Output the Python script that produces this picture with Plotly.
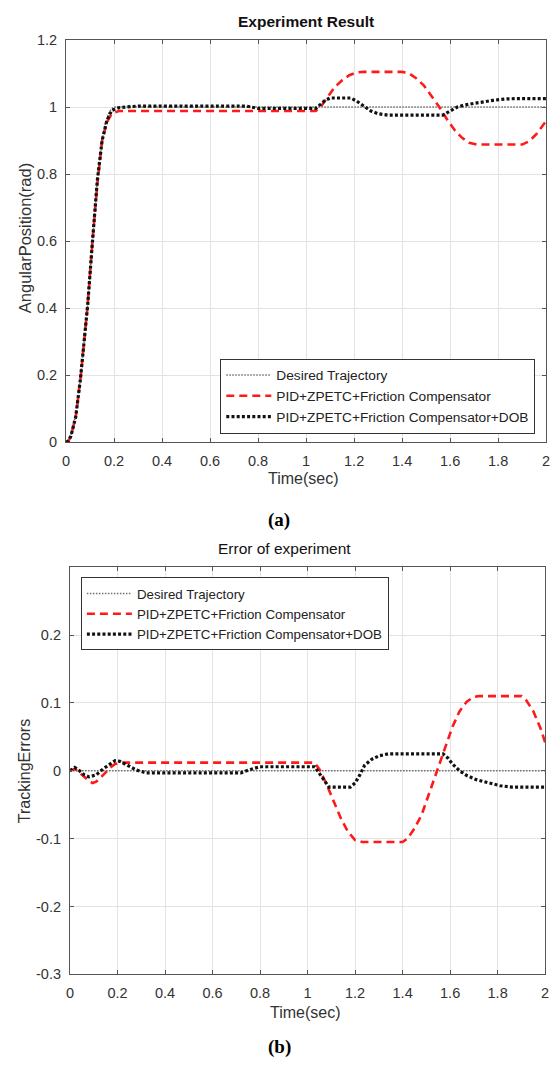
import plotly.graph_objects as go

# ---------------- data: (a) Experiment Result ----------------
t_des_a = [0, 0.01, 0.02, 0.04, 0.06, 0.09, 0.11, 0.13, 0.15, 0.165, 0.18, 0.19, 0.2, 2.0]
y_des_a = [0, 0.005, 0.02, 0.08, 0.19, 0.41, 0.6, 0.78, 0.9, 0.955, 0.985, 0.995, 1.0, 1.0]

t_pid_a = [0, 0.01, 0.02, 0.04, 0.06, 0.09, 0.11, 0.13, 0.15, 0.17, 0.19, 0.22,
           1.04, 1.06, 1.08, 1.10, 1.12, 1.15, 1.18, 1.21, 1.24, 1.40, 1.43, 1.46,
           1.49, 1.52, 1.555, 1.59, 1.62, 1.65, 1.68, 1.71, 1.90, 1.93, 1.96, 2.0]
y_pid_a = [0, 0.004, 0.018, 0.075, 0.19, 0.41, 0.6, 0.77, 0.9, 0.955, 0.98, 0.988,
           0.988, 1.0, 1.02, 1.04, 1.06, 1.08, 1.095, 1.103, 1.105, 1.105, 1.1, 1.085,
           1.065, 1.035, 1.0, 0.96, 0.93, 0.908, 0.893, 0.888, 0.888, 0.898, 0.92, 0.958]

t_dob_a = [0, 0.01, 0.02, 0.04, 0.06, 0.09, 0.11, 0.13, 0.15, 0.17, 0.19, 0.22, 0.3,
           0.75, 0.8, 1.04, 1.06, 1.08, 1.10, 1.185, 1.21, 1.24, 1.27, 1.30, 1.34,
           1.57, 1.59, 1.61, 1.63, 1.66, 1.70, 1.74, 1.78, 1.83, 1.87, 2.0]
y_dob_a = [0, 0.004, 0.018, 0.075, 0.19, 0.41, 0.6, 0.78, 0.9, 0.96, 0.99, 0.998, 1.003,
           1.003, 0.996, 0.996, 1.008, 1.02, 1.027, 1.027, 1.018, 1.003, 0.988, 0.98, 0.976,
           0.976, 0.983, 0.992, 1.0, 1.006, 1.011, 1.016, 1.02, 1.024, 1.025, 1.025]

# ---------------- data: (b) Error of experiment ----------------
t_des_b = [0, 2.0]
y_des_b = [0, 0]

t_pid_b = [0, 0.02, 0.05, 0.08, 0.095, 0.11, 0.14, 0.17, 0.19, 0.21, 1.03, 1.05,
           1.08, 1.11, 1.14, 1.17, 1.20, 1.23, 1.40, 1.42, 1.45, 1.48, 1.51, 1.545,
           1.58, 1.61, 1.64, 1.67, 1.70, 1.72, 1.90, 1.92, 1.95, 1.98, 2.0]
y_pid_b = [0, 0.003, -0.006, -0.015, -0.018, -0.016, -0.006, 0.005, 0.01, 0.012, 0.012,
           0.002, -0.02, -0.045, -0.07, -0.09, -0.102, -0.105, -0.105, -0.1, -0.085,
           -0.065, -0.035, 0.0, 0.035, 0.065, 0.088, 0.102, 0.109, 0.11, 0.11, 0.104,
           0.088, 0.063, 0.042]

t_dob_b = [0, 0.02, 0.04, 0.06, 0.08, 0.11, 0.14, 0.17, 0.19, 0.21, 0.24, 0.28, 0.32,
           0.72, 0.76, 0.8, 1.03, 1.05, 1.07, 1.09, 1.18, 1.2, 1.22, 1.24, 1.27, 1.30,
           1.34, 1.57, 1.59, 1.61, 1.64, 1.67, 1.71, 1.76, 1.81, 1.86, 2.0]
y_dob_b = [0, 0.005, 0.0, -0.006, -0.009, -0.006, 0.003, 0.011, 0.015, 0.014, 0.008,
           0.001, -0.003, -0.003, 0.002, 0.006, 0.006, -0.004, -0.016, -0.024, -0.024,
           -0.018, -0.006, 0.008, 0.017, 0.022, 0.025, 0.025, 0.019, 0.01, 0.0, -0.007,
           -0.013, -0.018, -0.022, -0.024, -0.024]

names = ["Desired Trajectory", "PID+ZPETC+Friction Compensator",
         "PID+ZPETC+Friction Compensator+DOB"]
x_ticks = [0, 0.2, 0.4, 0.6, 0.8, 1, 1.2, 1.4, 1.6, 1.8, 2]
x_tick_text = ["0", "0.2", "0.4", "0.6", "0.8", "1", "1.2", "1.4", "1.6", "1.8", "2"]
ya_ticks = [0, 0.2, 0.4, 0.6, 0.8, 1, 1.2]
ya_tick_text = ["0", "0.2", "0.4", "0.6", "0.8", "1", "1.2"]
yb_ticks = [-0.3, -0.2, -0.1, 0, 0.1, 0.2]
yb_tick_text = ["-0.3", "-0.2", "-0.1", "0", "0.1", "0.2"]

W, H = 559, 1073
SANS = "Liberation Sans, Arial, sans-serif"
SERIF = "Liberation Serif, Times New Roman, serif"

des_line = dict(color="#6e6e6e", width=1.6, dash="1.5px,1.5px")
pid_line = dict(color="#ff1a1a", width=2.6, dash="8px,5px")
dob_line = dict(color="#111111", width=3.2, dash="3px,2.2px")

fig = go.Figure()
for (tx, ty, ln, nm) in [(t_des_a, y_des_a, des_line, names[0]),
                         (t_pid_a, y_pid_a, pid_line, names[1]),
                         (t_dob_a, y_dob_a, dob_line, names[2])]:
    fig.add_trace(go.Scatter(x=tx, y=ty, mode="lines", line=ln,
                             name=nm, xaxis="x", yaxis="y", legend="legend"))
for (tx, ty, ln, nm) in [(t_des_b, y_des_b, des_line, names[0]),
                         (t_pid_b, y_pid_b, pid_line, names[1]),
                         (t_dob_b, y_dob_b, dob_line, names[2])]:
    fig.add_trace(go.Scatter(x=tx, y=ty, mode="lines", line=ln,
                             name=nm, xaxis="x2", yaxis="y2", legend="legend2"))

def px_x(p):
    return p / W

def px_y(p):
    return 1 - p / H

axis_common = dict(showgrid=True, gridcolor="#e3e3e3", gridwidth=1,
                   showline=True, linecolor="#555555", linewidth=1.2, mirror="ticks",
                   ticks="inside", ticklen=4, tickcolor="#555555", zeroline=False,
                   tickfont=dict(family=SANS, size=14.5, color="#333333"))

fig.update_layout(
    width=W, height=H,
    margin=dict(l=0, r=0, t=0, b=0),
    paper_bgcolor="white", plot_bgcolor="white",
    xaxis=dict(axis_common, domain=[px_x(63), px_x(550)], range=[0, 2],
               tickvals=x_ticks, ticktext=x_tick_text, anchor="y",
               ticklabelstandoff=5),
    yaxis=dict(axis_common, domain=[px_y(440.7), px_y(32.5)], range=[0, 1.2],
               tickvals=ya_ticks, ticktext=ya_tick_text, anchor="x",
               ticklabelstandoff=5),
    xaxis2=dict(axis_common, domain=[px_x(67), px_x(549)], range=[0, 2],
                tickvals=x_ticks, ticktext=x_tick_text, anchor="y2",
                ticklabelstandoff=5),
    yaxis2=dict(axis_common, domain=[px_y(981), px_y(567.7)], range=[-0.3, 0.3],
                tickvals=yb_ticks, ticktext=yb_tick_text, anchor="x2",
                ticklabelstandoff=5),
    legend=dict(x=px_x(539), y=px_y(432), xanchor="right", yanchor="bottom",
                bgcolor="white", bordercolor="#333333", borderwidth=1,
                font=dict(family=SANS, size=13.7, color="#222222"),
                itemwidth=45, tracegroupgap=0),
    legend2=dict(x=px_x(78), y=px_y(578), xanchor="left", yanchor="top",
                 bgcolor="white", bordercolor="#333333", borderwidth=1,
                 font=dict(family=SANS, size=13.3, color="#222222"),
                 itemwidth=45, tracegroupgap=0),
    showlegend=True,
)

annos = [
    dict(text="<b>Experiment Result</b>", x=px_x(306), y=px_y(14), size=15.5, color="#111111", fam=SANS, ang=0),
    dict(text="Error of experiment", x=px_x(285), y=px_y(549), size=15.5, color="#111111", fam=SANS, ang=0),
    dict(text="Time(sec)", x=px_x(304), y=px_y(478), size=16, color="#333333", fam=SANS, ang=0),
    dict(text="Time(sec)", x=px_x(306), y=px_y(1020), size=16, color="#333333", fam=SANS, ang=0),
    dict(text="AngularPosition(rad)", x=px_x(21), y=px_y(234), size=16.5, color="#333333", fam=SANS, ang=-90),
    dict(text="TrackingErrors", x=px_x(21), y=px_y(775), size=16, color="#333333", fam=SANS, ang=-90),
    dict(text="<b>(a)</b>", x=px_x(279), y=px_y(520), size=19, color="#000000", fam=SERIF, ang=0),
    dict(text="<b>(b)</b>", x=px_x(279), y=px_y(1055), size=19, color="#000000", fam=SERIF, ang=0),
]
for a in annos:
    fig.add_annotation(text=a["text"], x=a["x"], y=a["y"], xref="paper", yref="paper",
                       showarrow=False, xanchor="center", yanchor="middle", textangle=a["ang"],
                       font=dict(family=a["fam"], size=a["size"], color=a["color"]))

fig.write_html("out.html")
